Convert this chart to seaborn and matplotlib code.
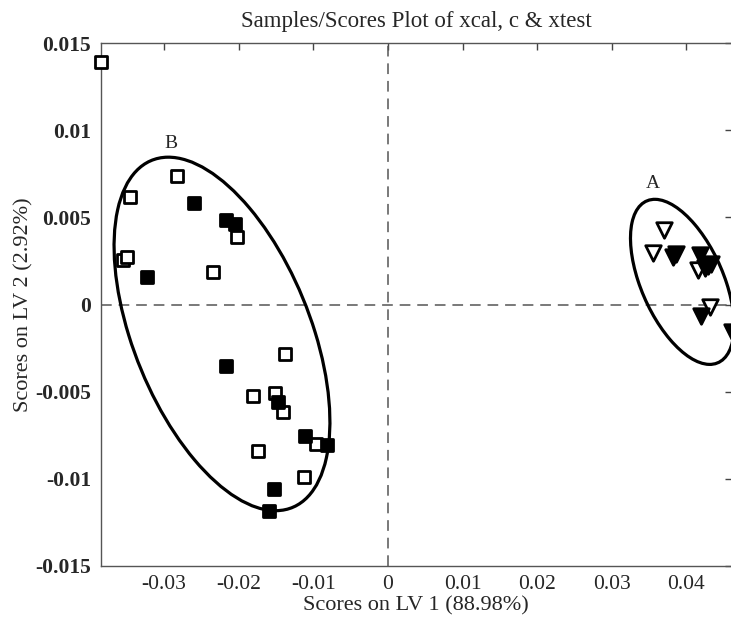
import numpy as np
import pandas as pd
import matplotlib
matplotlib.use("Agg")
import matplotlib.pyplot as plt
from matplotlib.patches import Ellipse
import seaborn as sns

# scores (LV1, LV2)
b_open_x = [-0.03848, -0.02830, -0.03455, -0.02018, -0.02340, -0.03545, -0.03499,
            -0.01383, -0.01804, -0.01513, -0.01402, -0.00968, -0.01737, -0.01125]
b_open_y = [0.01391, 0.00740, 0.00619, 0.00389, 0.00185, 0.00256, 0.00275,
            -0.00284, -0.00524, -0.00510, -0.00619, -0.00801, -0.00840, -0.00989]
b_fill_x = [-0.02594, -0.02174, -0.02049, -0.03232, -0.02170, -0.01469,
            -0.01108, -0.00821, -0.01523, -0.01594]
b_fill_y = [0.00585, 0.00485, 0.00461, 0.00156, -0.00351, -0.00558,
            -0.00754, -0.00807, -0.01061, -0.01186]
a_open_x = [0.03701, 0.03553, 0.04156, 0.04290, 0.04312]
a_open_y = [0.00428, 0.00298, 0.00198, 0.00222, -0.00013]
a_fill_x = [0.03821, 0.03866, 0.04178, 0.04245, 0.04335, 0.04201, 0.04610]
a_fill_y = [0.00275, 0.00290, 0.00284, 0.00210, 0.00235, -0.00066, -0.00156]

# group ellipses: centre, half extent in x and y, correlation
ell_names = ["B", "A"]
ell_cx = [-0.02223, 0.03944]
ell_cy = [-0.00169, 0.00130]
ell_sx = [0.01446, 0.00694]
ell_sy = [0.01015, 0.00474]
ell_r = [-0.497, -0.53]
label_x = [-0.02906, 0.03553]
label_y = [0.00925, 0.00696]

xticks = [-0.03, -0.02, -0.01, 0, 0.01, 0.02, 0.03, 0.04]
yticks = [-0.015, -0.01, -0.005, 0, 0.005, 0.01, 0.015]


def frame(xs, ys, group, kind):
    return pd.DataFrame({"x": xs, "y": ys, "group": group, "kind": kind})


df = pd.concat([
    frame(b_open_x, b_open_y, "B", "open"),
    frame(b_fill_x, b_fill_y, "B", "filled"),
    frame(a_open_x, a_open_y, "A", "open"),
    frame(a_fill_x, a_fill_y, "A", "filled"),
], ignore_index=True)

sns.set_style("white")
plt.rcParams["font.family"] = ["Liberation Serif", "DejaVu Serif"]

fig = plt.figure(figsize=(7.31, 6.19), dpi=100)
ax = fig.add_axes([100.7 / 731, 53.3 / 619, 631.3 / 731, 522.4 / 619])

ax.axhline(0, color="#555555", lw=1.1, ls=(0, (7, 4.5)), zorder=1)
ax.axvline(0, color="#555555", lw=1.1, ls=(0, (7, 4.5)), zorder=1)

markers = {"B": "s", "A": "v"}
sizes = {"B": 80, "A": 125}
for kind, face in [("open", "white"), ("filled", "black")]:
    for g in ["B", "A"]:
        sub = df[(df["kind"] == kind) & (df["group"] == g)]
        sns.scatterplot(data=sub, x="x", y="y", marker=markers[g], s=sizes[g],
                        color=face, edgecolor="black", linewidth=2.0,
                        legend=False, ax=ax, zorder=3, clip_on=(g == "A"))

for i, name in enumerate(ell_names):
    cov = np.array([[ell_sx[i] ** 2, ell_r[i] * ell_sx[i] * ell_sy[i]],
                    [ell_r[i] * ell_sx[i] * ell_sy[i], ell_sy[i] ** 2]])
    vals, vecs = np.linalg.eigh(cov)
    ang = np.degrees(np.arctan2(vecs[1, 1], vecs[0, 1]))
    e = Ellipse((ell_cx[i], ell_cy[i]), 2 * np.sqrt(vals[1]), 2 * np.sqrt(vals[0]),
                angle=ang, fill=False, edgecolor="black", lw=2.3, zorder=4)
    ax.add_patch(e)
    ax.text(label_x[i], label_y[i], name, ha="center", va="center", fontsize=14)

ax.set_xlim(-0.03848, 0.04610)
ax.set_ylim(-0.015, 0.015)
ax.set_xticks(xticks)
ax.set_yticks(yticks)
ax.set_xticklabels([f"{v:g}" for v in xticks], fontsize=15.5)
ax.set_yticklabels([f"{v:g}" for v in yticks], fontsize=15.5, fontweight="bold")
ax.tick_params(direction="in", length=5, width=1, color="#444444",
               top=True, right=True, pad=7)
for sp in ax.spines.values():
    sp.set_color("#555555")
    sp.set_linewidth(1.0)

ax.set_title("Samples/Scores Plot of xcal, c & xtest", fontsize=16.5, pad=12)
ax.set_xlabel("Scores on LV 1 (88.98%)", fontsize=16, labelpad=1)
ax.set_ylabel("Scores on LV 2 (2.92%)", fontsize=16, labelpad=1)

fig.savefig("out.png", dpi=100)
